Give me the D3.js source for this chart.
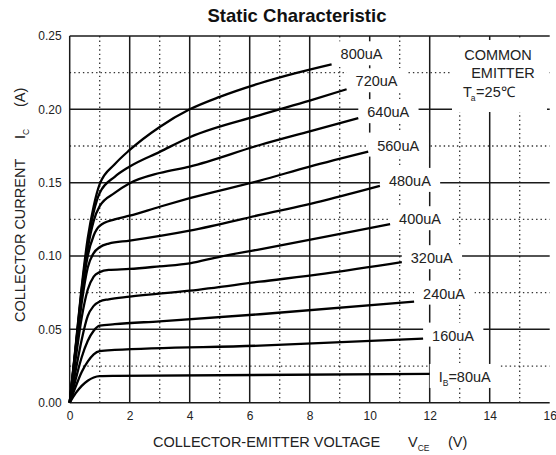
<!DOCTYPE html>
<html lang="en">
  <head>
    <meta charset="UTF-8" />
    <title>Static Characteristic</title>
    <style>
      html,
      body {
        margin: 0;
        background: #fff;
      }
      svg {
        display: block;
        font-family: "Liberation Sans", Arial, sans-serif;
      }
    </style>
    <script src="https://cdn.jsdelivr.net/npm/d3@7"></script>
  </head>
  <body>
    <svg id="chart" width="556" height="455"></svg>

    <script>
      // Ic vs Vce, one array per base current [Vce (V), Ic (A)]
      const ib80 = [[0, 0], [0.2, 0.0065], [0.4, 0.0115], [0.6, 0.015], [0.8, 0.0172], [1.0, 0.0181], [1.5, 0.0183], [12, 0.0196]];
      const ib160 = [[0, 0], [0.2, 0.011], [0.4, 0.021], [0.6, 0.028], [0.8, 0.033], [1.0, 0.0352], [1.5, 0.036], [6.34, 0.0389], [11.78, 0.0437]];
      const ib240 = [[0, 0], [0.2, 0.016], [0.4, 0.031], [0.6, 0.042], [0.8, 0.049], [1.0, 0.0525], [1.5, 0.0535], [3, 0.0555], [6.34, 0.0603], [11.48, 0.0689]];
      const ib320 = [[0, 0], [0.2, 0.022], [0.4, 0.043], [0.6, 0.059], [0.8, 0.066], [1.0, 0.069], [1.3, 0.0705], [2, 0.0723], [4, 0.0764], [6.34, 0.0825], [8.5, 0.088], [11.07, 0.0958]];
      const ib400 = [[0, 0], [0.2, 0.03], [0.4, 0.058], [0.6, 0.077], [0.8, 0.086], [1.0, 0.089], [1.3, 0.0905], [2, 0.0912], [3, 0.093], [4, 0.095], [5, 0.0995], [6.34, 0.1046], [8.5, 0.113], [10.68, 0.1217]];
      const ib480 = [[0, 0], [0.2, 0.034], [0.4, 0.068], [0.6, 0.092], [0.8, 0.102], [1.0, 0.106], [1.3, 0.1085], [2, 0.1105], [4, 0.1173], [6.34, 0.128], [8.5, 0.138], [10.34, 0.1478]];
      const ib560 = [[0, 0], [0.2, 0.036], [0.4, 0.073], [0.6, 0.1], [0.8, 0.114], [1.0, 0.1205], [1.5, 0.125], [2, 0.1275], [3, 0.1336], [4, 0.1394], [6.34, 0.1514], [8, 0.161], [9.95, 0.1712]];
      const ib640 = [[0, 0], [0.2, 0.037], [0.4, 0.075], [0.6, 0.105], [0.8, 0.124], [1.0, 0.134], [1.5, 0.143], [2, 0.1496], [3, 0.1566], [4, 0.161], [6.34, 0.1757], [8, 0.185], [9.62, 0.194]];
      const ib720 = [[0, 0], [0.2, 0.038], [0.4, 0.077], [0.6, 0.108], [0.8, 0.13], [1.0, 0.143], [1.5, 0.154], [2, 0.161], [3, 0.171], [4, 0.181], [6.34, 0.1961], [8, 0.206], [9.23, 0.2137]];
      const ib800 = [[0, 0], [0.2, 0.039], [0.4, 0.079], [0.6, 0.112], [0.8, 0.134], [1.0, 0.149], [1.5, 0.1625], [2, 0.1723], [3, 0.188], [4, 0.2], [5, 0.2085], [6.34, 0.2178], [7.5, 0.2245], [8.73, 0.2307]];

      const curveNames = ["80uA", "160uA", "240uA", "320uA", "400uA", "480uA", "560uA", "640uA", "720uA", "800uA"];
      const curveData = [ib80, ib160, ib240, ib320, ib400, ib480, ib560, ib640, ib720, ib800];

      const xMajor = [0, 2, 4, 6, 8, 10, 12, 14, 16];
      const xMinor = [1, 3, 5, 7, 9, 11, 13, 15];
      const yMajor = [0, 0.05, 0.1, 0.15, 0.2, 0.25];
      const yMinor = [0.025, 0.075, 0.125, 0.175, 0.225];

      const svg = d3.select("#chart");
      const x = d3.scaleLinear().domain([0, 16]).range([69.7, 549.7]);
      const y = d3.scaleLinear().domain([0, 0.25]).range([402.7, 36]);

      // grid
      const grid = svg.append("g");
      grid
        .selectAll("line.vmin")
        .data(xMinor)
        .join("line")
        .attr("x1", (d) => x(d))
        .attr("x2", (d) => x(d))
        .attr("y1", y(0))
        .attr("y2", y(0.25))
        .attr("stroke", "#333")
        .attr("stroke-width", 1.3)
        .attr("stroke-dasharray", "1.4,3");
      grid
        .selectAll("line.hmin")
        .data(yMinor)
        .join("line")
        .attr("x1", x(0))
        .attr("x2", x(16))
        .attr("y1", (d) => y(d))
        .attr("y2", (d) => y(d))
        .attr("stroke", "#333")
        .attr("stroke-width", 1.3)
        .attr("stroke-dasharray", "1.4,3");
      grid
        .selectAll("line.vmaj")
        .data(xMajor.filter((d) => d < 16))
        .join("line")
        .attr("x1", (d) => x(d))
        .attr("x2", (d) => x(d))
        .attr("y1", y(0))
        .attr("y2", y(0.25))
        .attr("stroke", "#1a1a1a")
        .attr("stroke-width", 1.5);
      grid
        .selectAll("line.hmaj")
        .data(yMajor)
        .join("line")
        .attr("x1", x(0))
        .attr("x2", x(16))
        .attr("y1", (d) => y(d))
        .attr("y2", (d) => y(d))
        .attr("stroke", "#1a1a1a")
        .attr("stroke-width", 1.5);

      // tick labels
      const yAxis = svg
        .append("g")
        .attr("transform", `translate(${x(0)},0)`)
        .call(d3.axisLeft(y).tickValues(yMajor).tickSize(0).tickPadding(8).tickFormat(d3.format(".2f")));
      const xAxis = svg
        .append("g")
        .attr("transform", `translate(0,${y(0)})`)
        .call(d3.axisBottom(x).tickValues(xMajor).tickSize(0).tickPadding(9));
      [xAxis, yAxis].forEach((a) => {
        a.select(".domain").remove();
        a.selectAll("text").attr("font-size", 12).attr("fill", "#222").attr("font-family", "Liberation Sans, Arial, sans-serif");
      });

      // COMMON EMITTER box
      svg.append("rect").attr("x", 452).attr("y", 40).attr("width", 95).attr("height", 72).attr("fill", "#fff");
      const note = svg.append("g").attr("font-size", 14.5).attr("fill", "#222");
      note.append("text").attr("x", 498).attr("y", 60).attr("text-anchor", "middle").text("COMMON");
      note.append("text").attr("x", 503).attr("y", 78).attr("text-anchor", "middle").text("EMITTER");
      const ta = note.append("text").attr("x", 463).attr("y", 97);
      ta.append("tspan").text("T");
      ta.append("tspan").attr("font-size", 8.5).attr("dy", 4).attr("dx", -1).text("a");
      ta.append("tspan").attr("dy", -4).attr("dx", 0.5).text("=25℃");

      // curve labels with white boxes
      const labelDy = [8, 2, -3, 1, 0, 0, -1, -1, -3, -5];
      const labels = svg.append("g").attr("font-size", 14.5).attr("fill", "#222");
      curveData.forEach((pts, i) => {
        const end = pts[pts.length - 1];
        const lx = x(end[0]) + 9;
        const ly = y(end[1]) + labelDy[i];
        const g = labels.append("g");
        const t = g.append("text").attr("x", lx).attr("y", ly);
        if (i === 0) {
          t.append("tspan").text("I");
          t.append("tspan").attr("font-size", 8.5).attr("dy", 4).text("B");
          t.append("tspan").attr("dy", -4).text("=" + curveNames[i]);
        } else {
          t.text(curveNames[i]);
        }
        const bb = t.node().getBBox();
        g.insert("rect", "text")
          .attr("x", bb.x - 9)
          .attr("y", ly - 18)
          .attr("width", bb.width + 18)
          .attr("height", 24)
          .attr("fill", "#fff");
      });

      // curves
      const line = d3
        .line()
        .x((d) => x(d[0]))
        .y((d) => y(d[1]))
        .curve(d3.curveMonotoneX);
      svg
        .append("g")
        .selectAll("path")
        .data(curveData)
        .join("path")
        .attr("d", line)
        .attr("fill", "none")
        .attr("stroke", "#000")
        .attr("stroke-width", 2.3)
        .attr("stroke-linejoin", "round");

      // title
      svg
        .append("text")
        .attr("x", 297)
        .attr("y", 22)
        .attr("text-anchor", "middle")
        .attr("font-size", 18.5)
        .attr("font-weight", "bold")
        .attr("fill", "#111")
        .text("Static Characteristic");

      // x title
      const xt = svg.append("g").attr("font-size", 14.5).attr("fill", "#222");
      xt.append("text").attr("x", 153).attr("y", 447).text("COLLECTOR-EMITTER VOLTAGE");
      const vce = xt.append("text").attr("x", 408).attr("y", 447);
      vce.append("tspan").text("V");
      vce.append("tspan").attr("font-size", 8.5).attr("dy", 4).text("CE");
      xt.append("text").attr("x", 448).attr("y", 447).text("(V)");

      // y title (rotated)
      const yt = svg.append("g").attr("transform", "rotate(-90)").attr("font-size", 14.5).attr("fill", "#222");
      yt.append("text").attr("x", -322).attr("y", 25).text("COLLECTOR CURRENT");
      yt.append("text").attr("x", -139).attr("y", 25).text("I");
      yt.append("text").attr("x", -135).attr("y", 29).attr("font-size", 8.5).text("C");
      yt.append("text").attr("x", -107).attr("y", 25).text("(A)");
    </script>
  </body>
</html>
